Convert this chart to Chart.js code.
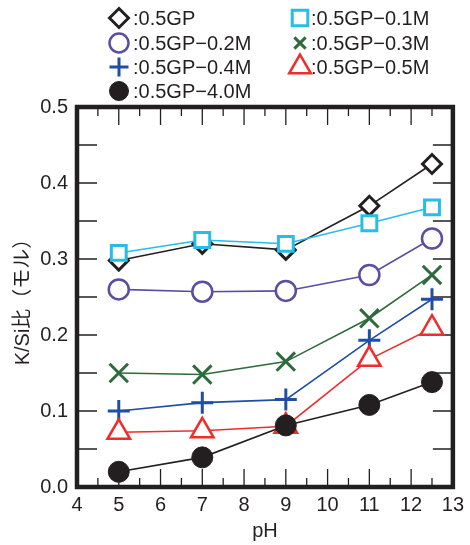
<!DOCTYPE html>
<html>
<head>
<meta charset="utf-8">
<script src="https://cdn.jsdelivr.net/npm/chart.js@4.4.1/dist/chart.umd.min.js"></script>
<style>
  html, body { margin: 0; padding: 0; background: #fff; }
</style>
</head>
<body>
<canvas id="chart" width="470" height="545"></canvas>
<script>
// valeurs
const phValues = [5, 7, 9, 11, 12.5];
const seriesNames = [':0.5GP', ':0.5GP\u22120.1M', ':0.5GP\u22120.2M', ':0.5GP\u22120.3M', ':0.5GP\u22120.4M', ':0.5GP\u22120.5M', ':0.5GP\u22124.0M'];
const gp00 = [0.298, 0.320, 0.312, 0.370, 0.425];
const gp01 = [0.308, 0.325, 0.320, 0.347, 0.368];
const gp02 = [0.260, 0.257, 0.258, 0.279, 0.327];
const gp03 = [0.150, 0.148, 0.165, 0.222, 0.279];
const gp04 = [0.100, 0.111, 0.115, 0.193, 0.247];
const gp05 = [0.072, 0.074, 0.080, 0.168, 0.209];
const gp40 = [0.020, 0.039, 0.081, 0.108, 0.138];
const xTitle = 'pH';
const yTitle = 'K/Si比（モル）';

const ink = '#231f20';
const fontFamily = '"Liberation Sans", Arial, "Noto Sans CJK JP", sans-serif';

const allSeries = [gp00, gp01, gp02, gp03, gp04, gp05, gp40];
const styles = [
    { color: ink,       point: 'rectRot',  radius: 9.5, fill: '#fff', bw: 3,   legendRadius: 9.5 },
    { color: '#27bde9', point: 'rect',     radius: 10.5, fill: '#fff', bw: 3,  legendRadius: 11 },
    { color: '#5a4ea2', point: 'circle',   radius: 10,  fill: '#fff', bw: 2.5, legendRadius: 9.5 },
    { color: '#2d6a3c', point: 'crossRot', radius: 13,  fill: 'transparent', bw: 3, legendRadius: 8 },
    { color: '#1f4fa3', point: 'cross',    radius: 11,  fill: 'transparent', bw: 3, legendRadius: 9.5 },
    { color: '#ee2d2d', point: 'triangle', radius: 13,  fill: '#fff', bw: 2.5, legendRadius: 12.5 },
    { color: ink,       point: 'circle',   radius: 10.5, fill: ink, bw: 1,     legendRadius: 9.5 }
];

const datasets = allSeries.map((values, i) => ({
    label: seriesNames[i],
    data: values.map((v, k) => ({ x: phValues[k], y: v })),
    borderColor: styles[i].color,
    borderWidth: 1.6,
    pointStyle: styles[i].point,
    pointRadius: styles[i].radius,
    pointBackgroundColor: styles[i].fill,
    pointBorderColor: styles[i].color,
    pointBorderWidth: styles[i].bw,
    fill: false,
    tension: 0,
    clip: false,
    order: allSeries.length - i
}));

// cadre et graduations vers l'intérieur
const framePlugin = {
    id: 'frame',
    beforeDatasetsDraw(chart) {
        const { ctx, chartArea: a, scales: { x, y } } = chart;
        ctx.save();
        ctx.strokeStyle = ink;
        ctx.lineWidth = 1.3;
        ctx.beginPath();
        for (let v = 4; v <= 13; v += 0.5) {
            const px = x.getPixelForValue(v);
            const len = Number.isInteger(v) ? 18 : 9;
            ctx.moveTo(px, a.bottom); ctx.lineTo(px, a.bottom - len);
            ctx.moveTo(px, a.top); ctx.lineTo(px, a.top + len);
        }
        for (let i = 0; i <= 10; i++) {
            const py = y.getPixelForValue(i * 0.05);
            ctx.moveTo(a.left, py); ctx.lineTo(a.left + 20, py);
            ctx.moveTo(a.right, py); ctx.lineTo(a.right - 20, py);
        }
        ctx.stroke();
        ctx.restore();
    },
    afterDatasetsDraw(chart) {
        const { ctx, chartArea: a } = chart;
        ctx.save();
        ctx.strokeStyle = ink;
        ctx.lineWidth = 4.5;
        ctx.strokeRect(a.left, a.top, a.right - a.left, a.bottom - a.top);
        ctx.restore();
    }
};

// légende sur deux colonnes
const legendPlugin = {
    id: 'gridLegend',
    afterDraw(chart) {
        const ctx = chart.ctx;
        const markerX = [119, 300];
        const textX = [133, 311];
        const rowY = [18, 43, 67, 91];
        ctx.save();
        chart.data.datasets.forEach((ds, i) => {
            const col = i % 2;
            const row = Math.floor(i / 2);
            const st = styles[i];
            ctx.fillStyle = st.fill;
            ctx.strokeStyle = st.color;
            ctx.lineWidth = st.bw;
            Chart.helpers.drawPoint(ctx, {
                pointStyle: st.point,
                radius: st.legendRadius,
                rotation: 0,
                borderWidth: st.bw
            }, markerX[col], rowY[row]);
            ctx.fillStyle = ink;
            ctx.font = '20px ' + fontFamily;
            ctx.textBaseline = 'middle';
            ctx.textAlign = 'left';
            ctx.fillText(ds.label, textX[col], rowY[row] + 1);
        });
        ctx.restore();
    }
};

new Chart(document.getElementById('chart').getContext('2d'), {
    type: 'line',
    data: { datasets: datasets },
    options: {
        responsive: false,
        animation: false,
        layout: { padding: { top: 107, right: 14, left: 0, bottom: 0 } },
        plugins: {
            legend: { display: false },
            tooltip: { enabled: false }
        },
        scales: {
            x: {
                type: 'linear',
                min: 4,
                max: 13,
                grid: { display: false, drawTicks: false },
                border: { display: false },
                ticks: { stepSize: 1, padding: 6, color: ink, font: { size: 20, family: fontFamily } },
                title: { display: true, text: xTitle, color: ink, padding: { top: 0, bottom: 2 }, font: { size: 20, family: fontFamily } },
                afterFit(scale) { scale.height = 58; }
            },
            y: {
                min: 0,
                max: 0.5,
                grid: { display: false, drawTicks: false },
                border: { display: false },
                ticks: {
                    stepSize: 0.1,
                    padding: 9,
                    color: ink,
                    font: { size: 20, family: fontFamily },
                    callback: v => v.toFixed(1)
                },
                title: { display: true, text: yTitle, color: ink, padding: { top: 11, bottom: 0 }, font: { size: 20, family: fontFamily } },
                afterFit(scale) { scale.width = 77; }
            }
        }
    },
    plugins: [framePlugin, legendPlugin]
});
</script>
</body>
</html>
